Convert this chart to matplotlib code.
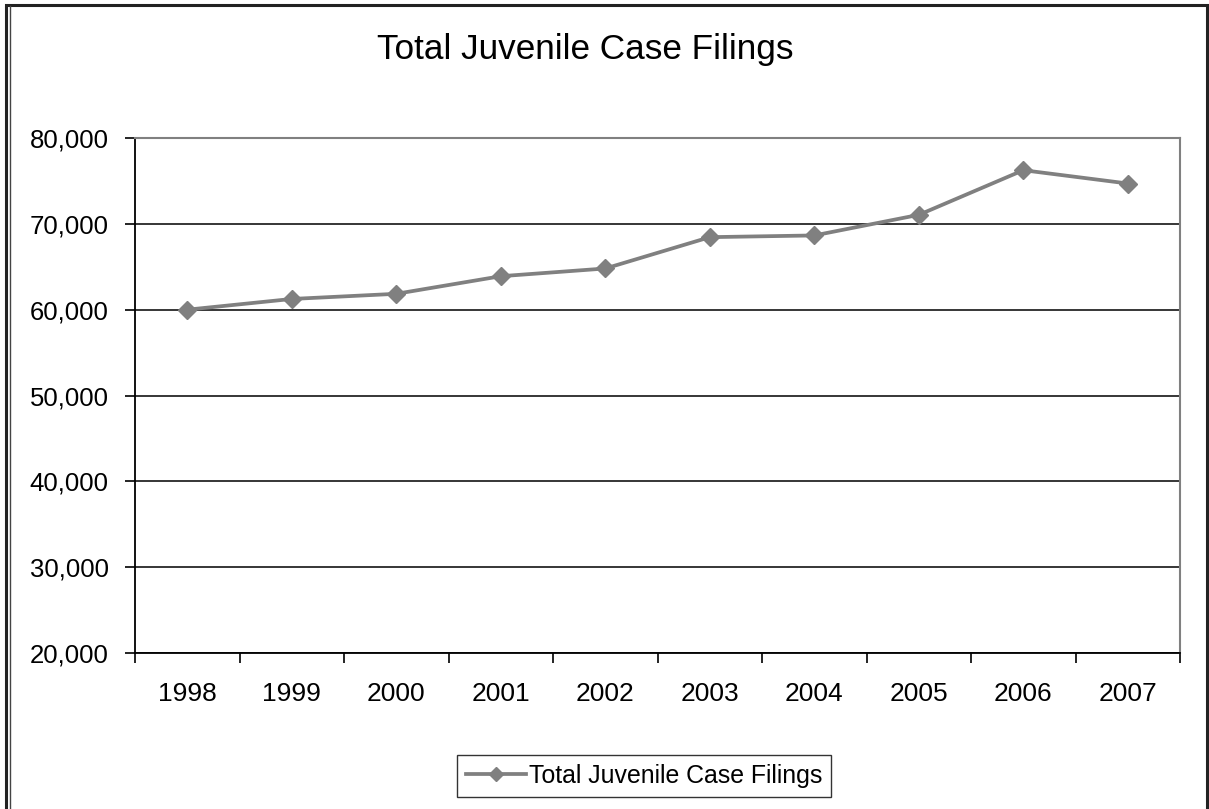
import numpy as np
import matplotlib
matplotlib.use('Agg')
import matplotlib.pyplot as plt
from matplotlib.patches import Rectangle
from matplotlib.ticker import FuncFormatter

plt.rcParams['font.family'] = ['Liberation Sans', 'DejaVu Sans']

years = ['1998', '1999', '2000', '2001', '2002', '2003', '2004', '2005', '2006', '2007']
filings = [60000, 61250, 61850, 63900, 64800, 68450, 68650, 71050, 76250, 74700]
series_name = 'Total Juvenile Case Filings'
title = 'Total Juvenile Case Filings'

fig = plt.figure(figsize=(12.09, 8.09), dpi=100)
ax = fig.add_axes([0.1117, 0.1928, 0.8644, 0.6366])

x = np.arange(1, len(years) + 1)
ax.plot(x, filings, color='#808080', linewidth=2.7, marker='D', markersize=9.5,
        markerfacecolor='#808080', markeredgecolor='#808080', label=series_name, zorder=3)

ax.set_ylim(20000, 80000)
ax.set_yticks(np.arange(20000, 80001, 10000))
ax.yaxis.set_major_formatter(FuncFormatter(lambda v, p: '{:,.0f}'.format(v)))
ax.grid(axis='y', color='black', linewidth=1.1)
ax.set_axisbelow(True)

ax.set_xlim(0.5, len(years) + 0.5)
ax.set_xticks(np.arange(0.5, len(years) + 1, 1))
ax.set_xticklabels([])
ax.set_xticks(x, minor=True)
ax.set_xticklabels(years, minor=True)
ax.tick_params(axis='x', which='major', length=7, width=1.2, color='black', direction='out')
ax.tick_params(axis='x', which='minor', length=0, pad=21, labelsize=19)
ax.tick_params(axis='y', length=7, width=1.2, color='black', direction='out', pad=12, labelsize=18.5)

for s in ['left', 'bottom']:
    ax.spines[s].set_color('black')
    ax.spines[s].set_linewidth(1.3)
for s in ['top', 'right']:
    ax.spines[s].set_color('#808080')
    ax.spines[s].set_linewidth(1.5)

fig.text(0.484, 0.939, title, ha='center', va='center', fontsize=25.3)

leg = fig.legend(loc='center', bbox_to_anchor=(0.533, 0.041), fontsize=17.9, frameon=True,
                 fancybox=False, handlelength=2.4, handletextpad=0.15, borderpad=0.35,
                 markerscale=0.7)
leg.get_frame().set_edgecolor('black')
leg.get_frame().set_linewidth(1.0)

# outer border of the chart
fig.add_artist(Rectangle((5.5 / 1209, -0.02), (1207 - 5.5) / 1209, 1 - 5 / 809 + 0.02,
                         transform=fig.transFigure, fill=False, edgecolor='#222222', linewidth=2.2))
fig.add_artist(plt.Line2D([9.5 / 1209, 9.5 / 1209], [0, 1 - 6 / 809], transform=fig.transFigure,
                          color='#444444', linewidth=1.0))

fig.savefig('out.png', dpi=100)
